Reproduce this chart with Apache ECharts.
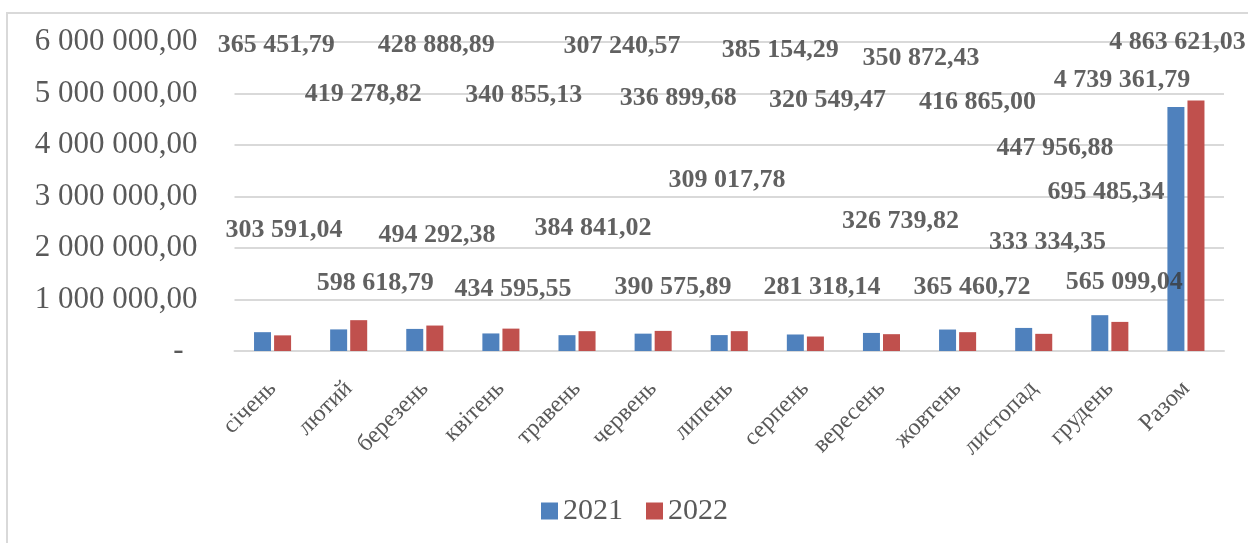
<!DOCTYPE html>
<html>
<head>
<meta charset="utf-8">
<script src="https://cdn.jsdelivr.net/npm/echarts@6/dist/echarts.min.js"></script>
<style>
  html, body { margin: 0; padding: 0; background: #fff; }
  #chart { width: 1248px; height: 543px; }
</style>
</head>
<body>
<div id="chart"></div>
<script>
// категорії та значення
const months = ['січень', 'лютий', 'березень', 'квітень', 'травень', 'червень', 'липень',
  'серпень', 'вересень', 'жовтень', 'листопад', 'грудень', 'Разом'];
const values2021 = [365451.79, 419278.82, 428888.89, 340855.13, 307240.57, 336899.68, 309017.78,
  320549.47, 350872.43, 416865.00, 447956.88, 695485.34, 4739361.79];
const values2022 = [303591.04, 598618.79, 494292.38, 434595.55, 384841.02, 390575.89, 385154.29,
  281318.14, 326739.82, 365460.72, 333334.35, 565099.04, 4863621.03];
const yTicks = [0, 1000000, 2000000, 3000000, 4000000, 5000000, 6000000];

// де стоять підписи (x - у частках категорії, y - у мільйонах), як у вихідній діаграмі
const labelX2021 = [0.05, 1.19, 2.15, 3.30, 4.59, 5.33, 5.97, 7.29, 8.52, 9.26, 10.28, 10.95, 11.16];
const labelY2021 = [5.94, 4.99, 5.94, 4.97, 5.92, 4.91, 3.32, 4.87, 5.69, 4.82, 3.94, 3.09, 5.26];
const labelX2022 = [0.15, 1.35, 2.16, 3.16, 4.21, 5.26, 6.67, 7.22, 8.25, 9.19, 10.18, 11.19, 11.89];
const labelY2022 = [2.35, 1.32, 2.25, 1.20, 2.39, 1.24, 5.83, 1.24, 2.52, 1.24, 2.12, 1.34, 6.00];

const serif = '"Liberation Serif", "DejaVu Serif", serif';

// 4739361.79 -> "4 739 361,79"
function fmt(v) {
  const parts = v.toFixed(2).split('.');
  return parts[0].replace(/\B(?=(\d{3})+(?!\d))/g, ' ') + ',' + parts[1];
}

function labelSeries(name, xs, ys, vals) {
  return {
    name: name,
    type: 'scatter',
    xAxisIndex: 1,
    yAxisIndex: 0,
    silent: true,
    symbolSize: 1,
    itemStyle: { color: 'rgba(0,0,0,0)' },
    label: {
      show: true,
      position: 'inside',
      formatter: (p) => fmt(vals[p.dataIndex]),
      color: '#3a3a3a',
      fontFamily: serif,
      fontWeight: 'bold',
      fontSize: 26,
    },
    data: xs.map((x, i) => [x, ys[i] * 1000000]),
  };
}

const chart = echarts.init(document.getElementById('chart'));
const option = {
  animation: false,
  backgroundColor: '#fff',
  graphic: [{
    type: 'rect',
    shape: { x: 7, y: 13, width: 1300, height: 600 },
    style: { fill: 'none', stroke: '#d9d9d9', lineWidth: 2 },
    silent: true,
  }],
  grid: { left: 234.5, right: 24, top: 42, bottom: 192, containLabel: false },
  legend: {
    data: ['2021', '2022'],
    left: 536,
    top: 491,
    itemWidth: 17,
    itemHeight: 17,
    itemGap: 23,
    icon: 'rect',
    textStyle: { fontFamily: serif, fontSize: 30, color: '#595959' },
  },
  xAxis: [{
    type: 'category',
    data: months,
    axisLine: { lineStyle: { color: '#d9d9d9', width: 2 } },
    axisTick: { show: false },
    axisLabel: {
      rotate: 45,
      interval: 0,
      margin: 34,
      fontFamily: serif,
      fontSize: 24,
      color: '#595959',
    },
  }, {
    type: 'value',
    min: -0.5,
    max: 12.5,
    show: false,
  }],
  yAxis: {
    type: 'value',
    min: yTicks[0],
    max: yTicks[yTicks.length - 1],
    interval: 1000000,
    axisLine: { show: false },
    axisTick: { show: false },
    splitLine: { lineStyle: { color: '#d9d9d9', width: 2 } },
    axisLabel: {
      margin: 37,
      fontFamily: serif,
      fontSize: 31,
      color: '#595959',
      formatter: (v) => v === 0 ? '{d|-}' : fmt(v),
      rich: { d: { fontFamily: serif, fontSize: 31, color: '#595959', padding: [0, 14, 0, 0] } },
    },
  },
  series: [
    {
      name: '2021',
      type: 'bar',
      data: values2021,
      barWidth: 17,
      barGap: '18%',
      itemStyle: { color: '#4f81bd' },
    },
    {
      name: '2022',
      type: 'bar',
      data: values2022,
      barWidth: 17,
      itemStyle: { color: '#c0504d' },
    },
    labelSeries('l2021', labelX2021, labelY2021, values2021),
    labelSeries('l2022', labelX2022, labelY2022, values2022),
  ],
};
chart.setOption(option);
</script>
</body>
</html>
